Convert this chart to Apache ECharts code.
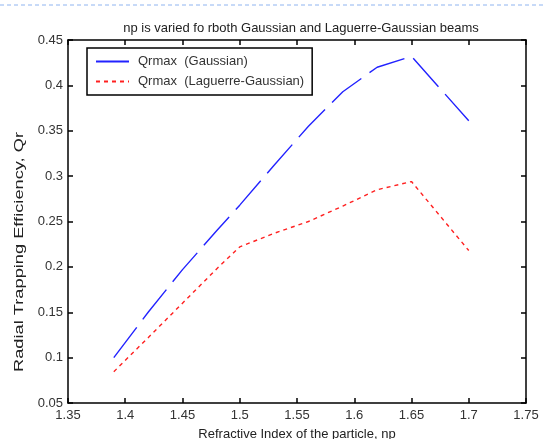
<!DOCTYPE html>
<html>
<head>
<meta charset="utf-8">
<script src="https://cdn.jsdelivr.net/npm/echarts@6/dist/echarts.min.js"></script>
<style>
  html, body { margin: 0; padding: 0; background: #fff; }
  #chart { width: 545px; height: 439px; }
</style>
</head>
<body>
<div id="chart"></div>
<script>
// refractive index of the particle, np
const npValues = [1.39, 1.42, 1.45, 1.48, 1.50, 1.53, 1.56, 1.59, 1.62, 1.65, 1.70]
// Qrmax for the Gaussian beam
const qrGaussian = [0.100, 0.150, 0.197, 0.240, 0.268, 0.312, 0.355, 0.393, 0.420, 0.432, 0.361]
// Qrmax for the Laguerre-Gaussian beam
const qrLaguerre = [0.0845, 0.122, 0.160, 0.198, 0.222, 0.237, 0.250, 0.267, 0.285, 0.294, 0.218]

const seriesNames = ["Qrmax  (Gaussian)", "Qrmax  (Laguerre-Gaussian)"]

const font = "Liberation Sans, Arial, sans-serif"

function pairs(xs, ys) {
  return xs.map((x, i) => [x, ys[i]])
}

const chart = echarts.init(document.getElementById("chart"))

// matlab style box: ticks inside on all four sides
const frameAxis = {
  axisLine: { show: true, lineStyle: { color: "#000", width: 1.5 } },
  axisTick: { show: true, inside: true, length: 5, lineStyle: { color: "#000", width: 1.5 } },
  splitLine: { show: false }
}

const option = {
  backgroundColor: "#fff",
  animation: false,
  title: {
    text: "np is varied fo rboth Gaussian and Laguerre-Gaussian beams",
    left: 296,
    top: 17,
    textAlign: "center",
    textStyle: { fontFamily: font, fontSize: 13, fontWeight: "normal", color: "#222" }
  },
  graphic: [
    {
      type: "line",
      shape: { x1: 0, y1: 5, x2: 545, y2: 5 },
      style: { stroke: "#8fb4f0", lineWidth: 1, lineDash: [4, 3] }
    },
    {
      // y axis title, stretched like in the original figure
      type: "text",
      x: 20,
      y: 252,
      rotation: Math.PI / 2,
      scaleX: 1.52,
      style: {
        text: "Radial Trapping Efficiency, Qr",
        font: "12px " + font,
        fill: "#222",
        textAlign: "center",
        textVerticalAlign: "middle"
      }
    }
  ],
  legend: {
    left: 87,
    top: 48,
    orient: "vertical",
    backgroundColor: "#fff",
    borderColor: "#000",
    borderWidth: 1.5,
    borderRadius: 0,
    padding: [7, 8, 7, 8],
    itemGap: 7,
    itemWidth: 33,
    itemHeight: 13,
    itemStyle: { opacity: 0 },
    textStyle: { fontFamily: font, fontSize: 13, color: "#333", padding: [0, 0, 0, 4] },
    data: [
      { name: seriesNames[0], lineStyle: { type: "solid" } },
      { name: seriesNames[1] }
    ]
  },
  grid: { left: 68, right: 19, top: 40, bottom: 36, outerBoundsMode: "none", containLabel: false },
  xAxis: [
    {
      type: "value",
      min: 1.35,
      max: 1.75,
      interval: 0.05,
      position: "bottom",
      name: "Refractive Index of the particle, np",
      nameLocation: "middle",
      nameGap: 25,
      nameTextStyle: { fontFamily: font, fontSize: 13, color: "#222" },
      axisLabel: { fontFamily: font, fontSize: 13, color: "#333", margin: 6 },
      ...frameAxis
    },
    {
      type: "value",
      min: 1.35,
      max: 1.75,
      interval: 0.05,
      position: "top",
      axisLabel: { show: false },
      ...frameAxis
    }
  ],
  yAxis: [
    {
      type: "value",
      min: 0.05,
      max: 0.45,
      interval: 0.05,
      position: "left",
      axisLabel: { fontFamily: font, fontSize: 13, color: "#333", margin: 5 },
      ...frameAxis
    },
    {
      type: "value",
      min: 0.05,
      max: 0.45,
      interval: 0.05,
      position: "right",
      axisLabel: { show: false },
      ...frameAxis
    }
  ],
  series: [
    {
      name: seriesNames[0],
      type: "line",
      data: pairs(npValues, qrGaussian),
      symbol: "none",
      color: "#2222ff",
      lineStyle: { color: "#2222ff", width: 1.4, type: [38, 10] }
    },
    {
      name: seriesNames[1],
      type: "line",
      data: pairs(npValues, qrLaguerre),
      symbol: "none",
      color: "#ff2020",
      lineStyle: { color: "#ff2020", width: 1.4, type: [4, 4] }
    }
  ]
}

chart.setOption(option)
</script>
</body>
</html>
